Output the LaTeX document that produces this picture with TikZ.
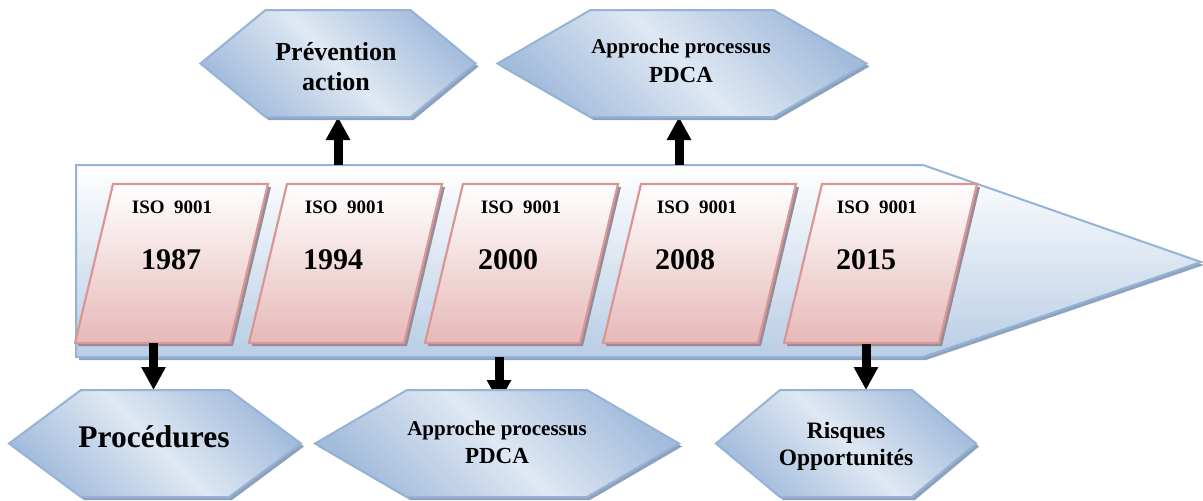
\documentclass[tikz,border=0pt]{standalone}
\usepackage{fontspec}
\setmainfont{Liberation Serif}
\usetikzlibrary{arrows.meta,calc}

\definecolor{barline}{HTML}{95B3D7}
\definecolor{barlow}{HTML}{B9CDE5}
\definecolor{barshadow}{HTML}{8FA3BD}
\definecolor{cardline}{HTML}{D99694}
\definecolor{cardlow}{HTML}{E6B9B8}
\definecolor{cardshadow}{HTML}{938C9A}
\definecolor{hexline}{HTML}{95B3D7}
\definecolor{hexdark}{HTML}{A3BCDC}
\definecolor{hexlight}{HTML}{DFE8F3}
\definecolor{hexshadow}{HTML}{8EA1BA}

\pgfdeclarelayer{bandlayer}
\pgfdeclarelayer{linklayer}
\pgfsetlayers{bandlayer,linklayer,main}

% hexagon panel: name, centre x, centre y, half flat width, slant, half height
\newcommand\hexpanel[6]{%
  \fill[hexshadow] ({#2-#4-#5+3},{#3+3}) -- ({#2-#4+3},{#3-#6+3}) -- ({#2+#4+3},{#3-#6+3})
     -- ({#2+#4+#5+3},{#3+3}) -- ({#2+#4+3},{#3+#6+3}) -- ({#2-#4+3},{#3+#6+3}) -- cycle;
  \path[hexbody] ({#2-#4-#5},#3) -- ({#2-#4},{#3-#6}) -- ({#2+#4},{#3-#6})
     -- ({#2+#4+#5},#3) -- ({#2+#4},{#3+#6}) -- ({#2-#4},{#3+#6}) -- cycle;
  \coordinate (#1-top) at (#2,{#3-#6});
  \coordinate (#1-bot) at (#2,{#3+#6});
}

% slanted year card: name, top-left x, label x, year x, year
\newcommand\yearcard[5]{%
  \fill[cardshadow] ({#2+3},187) -- ({#2+158},187) -- ({#2+120},346) -- ({#2-35},346) -- cycle;
  \path[cardbody] (#2,184) -- ({#2+155},184) -- ({#2+117},343) -- ({#2-38},343) -- cycle;
  \node[isolabel] (#1-iso) at (#3,213) {ISO\enspace 9001};
  \node[yearlabel] (#1-year) at (#4,269) {#5};
}

\tikzset{
  barbody/.style={draw=barline, line width=2pt, line join=miter, top color=white, bottom color=barlow},
  cardbody/.style={draw=cardline, line width=2.2pt, top color=white, bottom color=cardlow},
  hexbody/.style={draw=hexline, line width=2pt, top color=hexdark, bottom color=hexdark,
                  middle color=hexlight, shading angle=-45},
  isolabel/.style={anchor=base, inner sep=0pt, font=\fontsize{19}{22}\selectfont\bfseries},
  yearlabel/.style={anchor=base, inner sep=0pt, font=\fontsize{30}{34}\selectfont\bfseries},
  hextext/.style={anchor=base, inner sep=0pt},
  bigarrow/.style={line width=9pt, -{Triangle[width=23pt,length=23pt]}},
}

\begin{document}
\begin{tikzpicture}[x=1pt,y=-1pt]
\useasboundingbox (0,0) rectangle (1203,501);

\begin{pgfonlayer}{bandlayer}
% timeline band
\fill[barshadow] (79,168) -- (926,168) -- (1204,265) -- (926,360) -- (79,360) -- cycle;
\path[barbody] (76,165) -- (923,165) -- (1201,262) -- (923,357) -- (76,357) -- cycle;
% year cards
\yearcard{c1}{113}{172}{171}{1987}
\yearcard{c2}{287}{345}{333}{1994}
\yearcard{c3}{463}{521}{508}{2000}
\yearcard{c4}{641}{697}{685}{2008}
\yearcard{c5}{822}{877}{866}{2015}
\end{pgfonlayer}

\coordinate (barP) at (338,165);
\coordinate (barA) at (679,165);
\coordinate (barB) at (499,357);
\coordinate (c1-out) at (153.5,343);
\coordinate (c5-out) at (866,344);

% panels above and below the band
\hexpanel{hP}{338}{63.5}{72.5}{65}{53.5}
\hexpanel{hA}{682}{63.5}{91.5}{93}{53.5}
\hexpanel{hPr}{155}{443.5}{74}{72}{53.5}
\hexpanel{hB}{497}{443.5}{90}{92}{53.5}
\hexpanel{hR}{846}{443.5}{66}{64}{53.5}

% connectors, kept beneath the panels
\begin{pgfonlayer}{linklayer}
\draw[bigarrow] (barP) -- (barP |- hP-bot);
\draw[bigarrow] (barA) -- (barA |- hA-bot);
\draw[bigarrow] (c1-out) -- (c1-out |- hPr-top);
\draw[bigarrow] (c5-out) -- (c5-out |- hR-top);
\draw[bigarrow] (barB) -- ([yshift=-13pt]barB |- hB-top);
\end{pgfonlayer}

% panel texts
\node[hextext, font=\fontsize{26}{30}\selectfont\bfseries] (tP1) at (336,60) {Prévention};
\node[hextext, font=\fontsize{26}{30}\selectfont\bfseries] (tP2) at (336,90) {action};
\node[hextext, font=\fontsize{21}{24}\selectfont\bfseries] (tA1) at (681,53) {Approche processus};
\node[hextext, font=\fontsize{23}{26}\selectfont\bfseries] (tA2) at (681,82) {PDCA};
\node[hextext, font=\fontsize{31.5}{36}\selectfont\bfseries] (tPr) at (154,447) {Procédures};
\node[hextext, font=\fontsize{21}{24}\selectfont\bfseries] (tB1) at (497,435) {Approche processus};
\node[hextext, font=\fontsize{23}{26}\selectfont\bfseries] (tB2) at (497,463) {PDCA};
\node[hextext, font=\fontsize{23.5}{27}\selectfont\bfseries] (tR1) at (846,438) {Risques};
\node[hextext, font=\fontsize{23.5}{27}\selectfont\bfseries] (tR2) at (846,465) {Opportunités};
\end{tikzpicture}
\end{document}
